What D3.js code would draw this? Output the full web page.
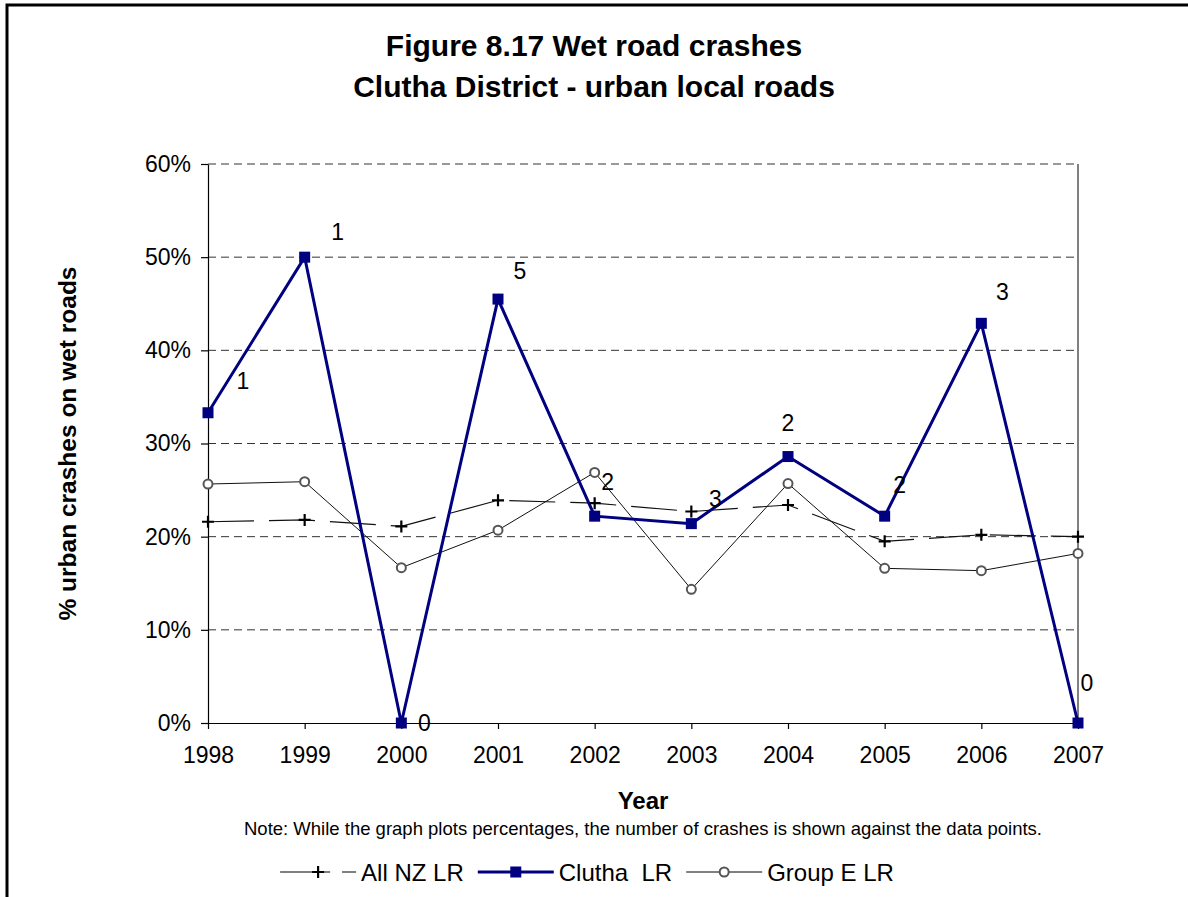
<!DOCTYPE html>
<html><head><meta charset="utf-8">
<script src="https://cdn.jsdelivr.net/npm/d3@7"></script>
<style>
body{margin:0;background:#fff;}
text{font-family:"Liberation Sans",Arial,sans-serif;}
</style></head>
<body><svg id="c" width="1188" height="897"></svg>
<script>
const years = ["1998","1999","2000","2001","2002","2003","2004","2005","2006","2007"];
const allNZ = [0.216,0.218,0.211,0.239,0.236,0.227,0.234,0.195,0.202,0.200];
const clutha = [0.333,0.5,0,0.455,0.222,0.214,0.286,0.222,0.429,0];
const groupE = [0.2565,0.259,0.1667,0.207,0.269,0.1435,0.257,0.166,0.1635,0.182];
const crashCounts = ["1","1","0","5","2","3","2","2","3","0"];
const yTicks = [0,0.1,0.2,0.3,0.4,0.5,0.6];
const seriesNames = ["All NZ LR","Clutha  LR","Group E LR"];
const titleLines = ["Figure 8.17 Wet road crashes","Clutha District - urban local roads"];
// label nudges (layout only)
const labelNudge = [[35,-32],[33,-25],[23,0],[22,-28],[13,-34],[24,-25],[0,-34],[15,-31],[21,-32],[9,-40]];

const svg = d3.select("#c");
const L=208,R=1078,T=164,B=723;
const x = d3.scalePoint().domain(years).range([L,R]);
const y = d3.scaleLinear().domain([0,0.6]).range([B,T]);

// outer border
svg.append("path").attr("d","M7,897V5H1188").attr("fill","none").attr("stroke","#000").attr("stroke-width",3);

// titles
svg.selectAll(".title").data(titleLines).join("text")
  .attr("x",594).attr("y",(d,i)=>56+i*41).attr("text-anchor","middle")
  .attr("font-size",30).attr("font-weight","bold").text(d=>d);

// gridlines
svg.append("g").selectAll("line").data(yTicks.filter(d=>d>0)).join("line")
  .attr("x1",L).attr("x2",R).attr("y1",d=>y(d)).attr("y2",d=>y(d))
  .attr("stroke","#333").attr("stroke-width",1).attr("stroke-dasharray","8,5");

// right border
svg.append("line").attr("x1",R).attr("x2",R).attr("y1",T).attr("y2",B).attr("stroke","#808080").attr("stroke-width",2);

// axes
const ya = svg.append("g").attr("transform",`translate(${L},0)`)
  .call(d3.axisLeft(y).tickValues(yTicks).tickFormat(d3.format(".0%")).tickSize(7).tickSizeOuter(0).tickPadding(10));
const xa = svg.append("g").attr("transform",`translate(0,${B})`)
  .call(d3.axisBottom(x).tickSize(6).tickSizeOuter(0).tickPadding(18));
[ya,xa].forEach(a=>{a.selectAll("text").attr("font-size",23).attr("fill","#000").attr("font-family","Liberation Sans, Arial, sans-serif");
  a.selectAll("line,path").attr("stroke","#000").attr("stroke-width",1.2);});

// axis titles
svg.append("text").attr("transform",`translate(76,${(T+B)/2}) rotate(-90)`).attr("text-anchor","middle")
  .attr("font-size",24.5).attr("font-weight","bold").text("% urban crashes on wet roads");
svg.append("text").attr("x",(L+R)/2).attr("y",809).attr("text-anchor","middle")
  .attr("font-size",24).attr("font-weight","bold").text("Year");
svg.append("text").attr("x",(L+R)/2).attr("y",835).attr("text-anchor","middle")
  .attr("font-size",18.5).text("Note: While the graph plots percentages, the number of crashes is shown against the data points.");

const line = d3.line().x((d,i)=>x(years[i])).y(d=>y(d));

// Group E
svg.append("path").datum(groupE).attr("d",line).attr("fill","none").attr("stroke","#111").attr("stroke-width",1);
// All NZ
svg.append("path").datum(allNZ).attr("d",line).attr("fill","none").attr("stroke","#111").attr("stroke-width",1.2).attr("stroke-dasharray","46,15");
// Clutha
svg.append("path").datum(clutha).attr("d",line).attr("fill","none").attr("stroke","#000080").attr("stroke-width",3);

function plus(g,cx,cy){g.append("path").attr("d",`M${cx-6},${cy}H${cx+6}M${cx},${cy-6}V${cy+6}`).attr("stroke","#000").attr("stroke-width",2.2);}
function circ(g,cx,cy){g.append("circle").attr("cx",cx).attr("cy",cy).attr("r",4.5).attr("fill","#fff").attr("stroke","#555").attr("stroke-width",2);}
function sq(g,cx,cy){g.append("rect").attr("x",cx-5.5).attr("y",cy-5.5).attr("width",11).attr("height",11).attr("fill","#000080");}

const mk = svg.append("g");
groupE.forEach((d,i)=>circ(mk,x(years[i]),y(d)));
allNZ.forEach((d,i)=>plus(mk,x(years[i]),y(d)));
clutha.forEach((d,i)=>sq(mk,x(years[i]),y(d)));

// data labels
svg.append("g").selectAll("text").data(clutha).join("text")
  .attr("x",(d,i)=>x(years[i])+labelNudge[i][0]).attr("y",(d,i)=>y(d)+labelNudge[i][1]).attr("dy","0.36em")
  .attr("text-anchor","middle").attr("font-size",23).text((d,i)=>crashCounts[i]);

// legend
const lg = svg.append("g");
const ly = 872, lineLen = 76, gapTxt = 5, gapItem = 14;
const items = seriesNames.map((name,i)=>{
  const g = lg.append("g");
  const t = g.append("text").attr("x",lineLen+gapTxt).attr("y",ly).attr("dy","0.36em").attr("font-size",24)
    .style("white-space","pre").text(name);
  const cx = lineLen/2;
  if(i===0){
    g.append("line").attr("x1",0).attr("x2",lineLen).attr("y1",ly).attr("y2",ly).attr("stroke","#000").attr("stroke-width",1.2).attr("stroke-dasharray","50,12");
    plus(g,cx,ly);
  } else if(i===1){
    g.append("line").attr("x1",0).attr("x2",lineLen).attr("y1",ly).attr("y2",ly).attr("stroke","#000080").attr("stroke-width",3);
    sq(g,cx,ly);
  } else {
    g.append("line").attr("x1",0).attr("x2",lineLen).attr("y1",ly).attr("y2",ly).attr("stroke","#000").attr("stroke-width",1);
    circ(g,cx,ly);
  }
  return {g, w: lineLen+gapTxt+t.node().getComputedTextLength()};
});
const total = d3.sum(items,d=>d.w)+gapItem*(items.length-1);
let lx = 587 - total/2;
items.forEach(it=>{it.g.attr("transform",`translate(${lx},0)`); lx += it.w+gapItem;});
</script></body></html>
